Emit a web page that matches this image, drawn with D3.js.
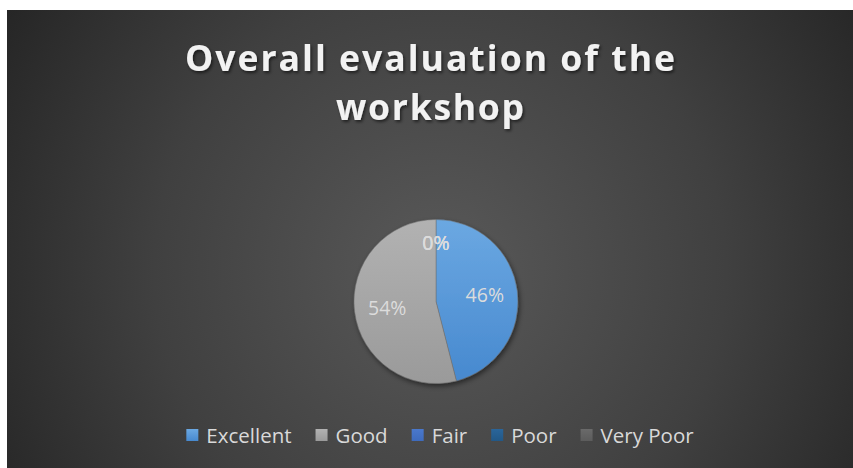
<!DOCTYPE html>
<html><head><meta charset="utf-8">
<script src="https://cdn.jsdelivr.net/npm/d3@7"></script>
<style>html,body{margin:0;padding:0;background:#fff;}svg{display:block;}</style>
</head><body>
<svg id="chart" width="853" height="468"></svg>
<script>
const titleLines = ["Overall evaluation of the", "workshop"];
const categories = ["Excellent", "Good", "Fair", "Poor", "Very Poor"];
const values = [46, 54, 0, 0, 0];
const labels = ["46%", "54%", "0%", "0%", "0%"];
const colorsTop = ["#6ba8e2", "#b2b2b2", "#4a78cc", "#2a659a", "#6a6a6a"];
const colorsBottom = ["#4789cf", "#9a9a9a", "#3e6bbd", "#225887", "#5c5c5c"];

const W = 853, H = 468;
const svg = d3.select("#chart");
const defs = svg.append("defs");

const bg = defs.append("radialGradient").attr("id", "bg")
  .attr("gradientUnits", "userSpaceOnUse").attr("cx", 440).attr("cy", 270).attr("r", 520);
bg.append("stop").attr("offset", 0).attr("stop-color", "#595959");
bg.append("stop").attr("offset", 0.55).attr("stop-color", "#404040");
bg.append("stop").attr("offset", 1).attr("stop-color", "#242424");

const shadow = defs.append("filter").attr("id", "ts").attr("x", "-10%").attr("y", "-30%").attr("width", "120%").attr("height", "160%");
shadow.append("feDropShadow").attr("dx", 1.5).attr("dy", 2).attr("stdDeviation", 1.5)
  .attr("flood-color", "#000").attr("flood-opacity", 0.55);
const pshadow = defs.append("filter").attr("id", "ps").attr("x", "-20%").attr("y", "-20%").attr("width", "140%").attr("height", "140%");
pshadow.append("feDropShadow").attr("dx", 1.5).attr("dy", 2.5).attr("stdDeviation", 2.5)
  .attr("flood-color", "#000").attr("flood-opacity", 0.5);

categories.forEach((c, i) => {
  const g = defs.append("linearGradient").attr("id", "g" + i)
    .attr("x1", 0).attr("y1", 0).attr("x2", 0).attr("y2", 1);
  g.append("stop").attr("offset", 0).attr("stop-color", colorsTop[i]);
  g.append("stop").attr("offset", 1).attr("stop-color", colorsBottom[i]);
});

svg.append("rect").attr("x", 7).attr("y", 10).attr("width", W - 7).attr("height", H - 10).attr("fill", "url(#bg)");

// Title
const title = svg.append("g").attr("filter", "url(#ts)");
const titleY = [71, 120];
const titleWidths = [490, 188];
titleLines.forEach((t, i) => {
  const tx = title.append("text")
    .attr("x", 430).attr("y", titleY[i])
    .attr("text-anchor", "middle")
    .attr("font-family", "'Open Sans', sans-serif")
    .attr("font-weight", "bold").attr("font-size", 35.5)
    .attr("fill", "#f2f2f2").text(t);
  const n = t.length;
  const w0 = tx.node().getComputedTextLength();
  const ls = (titleWidths[i] - w0) / (n - 1);
  tx.attr("letter-spacing", ls).attr("x", 430 + ls / 2);
});

// Pie
const cx = 436, cy = 301.5, R = 82;
const pie = d3.pie().sort(null).value(d => d)(values);
const arc = d3.arc().innerRadius(0).outerRadius(R);
const pg = svg.append("g").attr("transform", `translate(${cx},${cy})`);
pg.append("g").attr("filter", "url(#ps)")
  .selectAll("path").data(pie).join("path")
  .attr("d", arc)
  .attr("fill", (d, i) => `url(#g${i})`)
  .attr("stroke", d => d.data === 0 ? "none" : "#6e6e6e").attr("stroke-width", 0.5);

const labelArc = d3.arc().innerRadius(R * 0.6).outerRadius(R * 0.6);
const zeroArc = d3.arc().innerRadius(R * 0.71).outerRadius(R * 0.71);
pg.selectAll("text.lbl").data(pie).join("text").attr("class", "lbl")
  .attr("transform", d => `translate(${(d.data === 0 ? zeroArc : labelArc).centroid(d)})`)
  .attr("text-anchor", "middle").attr("dy", "0.36em")
  .attr("font-family", "'Open Sans', sans-serif").attr("font-size", 19.5)
  .attr("fill", "#dcdcdc")
  .text((d, i) => labels[i]);

// Legend
const lg = svg.append("g");
const fs = 20.5, sq = 12, gapText = 8, gapItem = 24;
const items = categories.map((c, i) => {
  const t = lg.append("text").attr("font-family", "'Open Sans', sans-serif")
    .attr("font-size", fs).attr("fill", "#d9d9d9").attr("y", 443).text(c);
  return {t, w: t.node().getComputedTextLength(), i};
});
const total = d3.sum(items, d => sq + gapText + d.w) + gapItem * (items.length - 1);
let x = 440 - total / 2;
items.forEach(d => {
  lg.append("rect").attr("x", x).attr("y", 429).attr("width", sq).attr("height", sq)
    .attr("fill", `url(#g${d.i})`);
  d.t.attr("x", x + sq + gapText);
  x += sq + gapText + d.w + gapItem;
});
</script>
</body></html>
